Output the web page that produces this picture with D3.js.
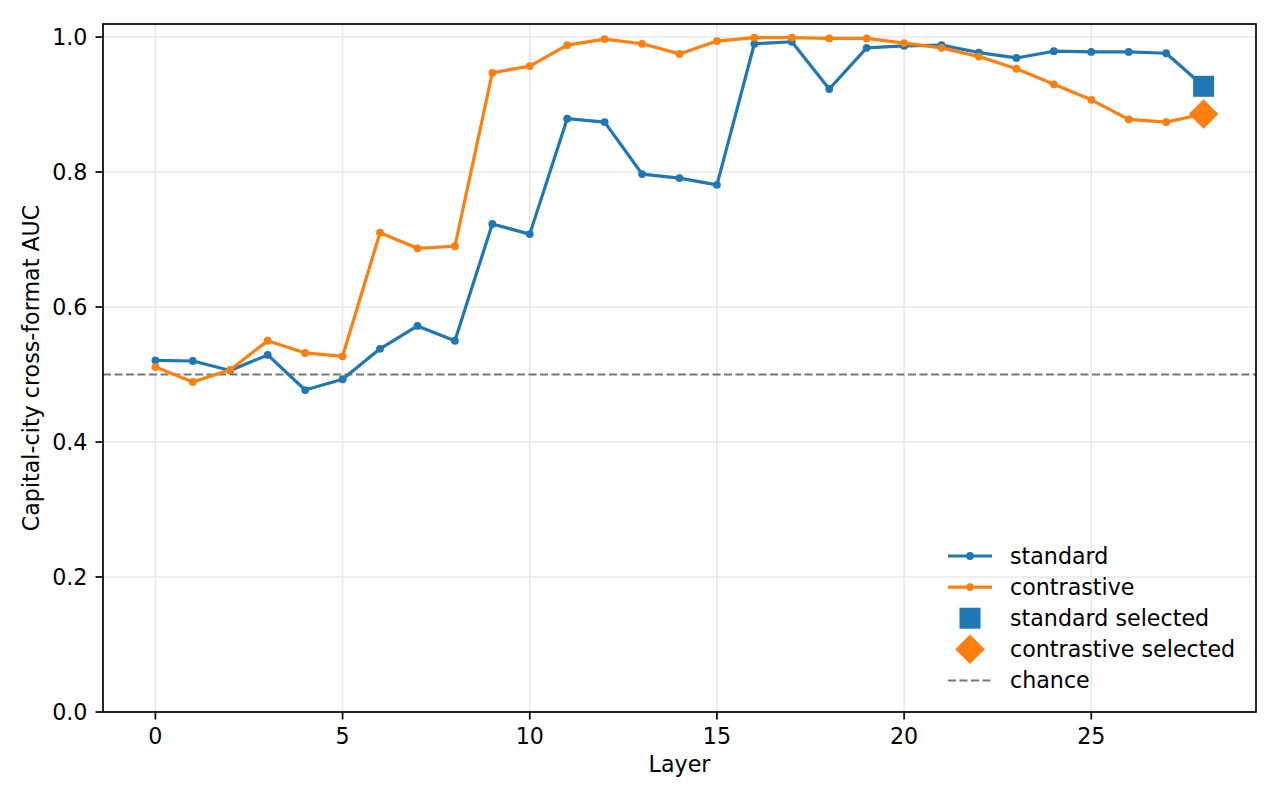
<!DOCTYPE html>
<html><head><meta charset="utf-8">
<script src="https://cdn.jsdelivr.net/npm/d3@7"></script>
<style>body{margin:0;background:#fff;} text{font-family:"DejaVu Sans",sans-serif;fill:#000;}</style>
</head><body><svg id="chart" width="1280" height="800"></svg>
<script>
const layers = d3.range(0, 29);
const standard = [0.521,0.520,0.506,0.529,0.477,0.493,0.538,0.572,0.550,0.723,0.708,0.879,0.874,0.797,0.791,0.781,0.990,0.993,0.923,0.984,0.987,0.988,0.977,0.969,0.979,0.978,0.978,0.976,0.927];
const contrastive = [0.511,0.489,0.507,0.550,0.532,0.527,0.710,0.687,0.690,0.947,0.957,0.988,0.997,0.990,0.975,0.994,0.999,0.999,0.998,0.998,0.991,0.984,0.971,0.953,0.930,0.907,0.878,0.874,0.886];
const selectedLayer = 28;
const standardSelected = 0.927;
const contrastiveSelected = 0.886;
const chance = 0.5;
const xTicks = [0,5,10,15,20,25];
const yTicks = [0.0,0.2,0.4,0.6,0.8,1.0];
const legendLabels = ["standard","contrastive","standard selected","contrastive selected","chance"];

const blue = "#1f77b4", orange = "#ff7f0e", gray = "#777777";
const svg = d3.select("#chart");
const L = 103, R = 1256, T = 24, B = 712;
const x = d3.scaleLinear().domain([-1.4, 29.4]).range([L, R]);
const y = d3.scaleLinear().domain([0, 1.0193]).range([B, T]);
const fs = 22.2;

// grid
const g = svg.append("g");
g.selectAll(".gx").data(xTicks).join("line").attr("x1", d=>x(d)).attr("x2", d=>x(d)).attr("y1", T).attr("y2", B)
  .attr("stroke", "#e8e8e8").attr("stroke-width", 1.6);
g.selectAll(".gy").data(yTicks).join("line").attr("y1", d=>y(d)).attr("y2", d=>y(d)).attr("x1", L).attr("x2", R)
  .attr("stroke", "#e8e8e8").attr("stroke-width", 1.6);

// chance
svg.append("line").attr("x1", L).attr("x2", R).attr("y1", y(chance)).attr("y2", y(chance))
  .attr("stroke", gray).attr("stroke-width", 2).attr("stroke-dasharray", "8,3.5");

const line = d3.line().x((d,i)=>x(layers[i])).y(d=>y(d));
svg.append("path").datum(standard).attr("d", line).attr("fill","none").attr("stroke", blue).attr("stroke-width", 3.2).attr("stroke-linejoin","round");
svg.selectAll(".ps").data(standard.slice(0,28)).join("circle").attr("cx",(d,i)=>x(layers[i])).attr("cy",d=>y(d)).attr("r",3.9).attr("fill",blue);
svg.append("path").datum(contrastive).attr("d", line).attr("fill","none").attr("stroke", orange).attr("stroke-width", 3.2).attr("stroke-linejoin","round");
svg.selectAll(".pc").data(contrastive.slice(0,28)).join("circle").attr("cx",(d,i)=>x(layers[i])).attr("cy",d=>y(d)).attr("r",3.9).attr("fill",orange);

// selected markers
const sq = 21;
svg.append("rect").attr("x", x(selectedLayer)-sq/2).attr("y", y(standardSelected)-sq/2).attr("width", sq).attr("height", sq).attr("fill", blue);
const dm = 14.8;
svg.append("path").attr("d", `M0,${-dm}L${dm},0L0,${dm}L${-dm},0Z`).attr("transform", `translate(${x(selectedLayer)},${y(contrastiveSelected)})`).attr("fill", orange);

// axes frame
svg.append("rect").attr("x", L).attr("y", T).attr("width", R-L).attr("height", B-T).attr("fill","none").attr("stroke","#000").attr("stroke-width",1.7);

// ticks
xTicks.forEach(t=>{
  svg.append("line").attr("x1",x(t)).attr("x2",x(t)).attr("y1",B).attr("y2",B+7.5).attr("stroke","#000").attr("stroke-width",1.7);
  svg.append("text").attr("x",x(t)).attr("y",744).attr("text-anchor","middle").attr("font-size",fs).text(t);
});
yTicks.forEach(t=>{
  svg.append("line").attr("x1",L-7.5).attr("x2",L).attr("y1",y(t)).attr("y2",y(t)).attr("stroke","#000").attr("stroke-width",1.7);
  svg.append("text").attr("x",87.5).attr("y",y(t)+8).attr("text-anchor","end").attr("font-size",fs).text(t.toFixed(1));
});
svg.append("text").attr("x",(L+R)/2).attr("y",772).attr("text-anchor","middle").attr("font-size",fs).text("Layer");
svg.append("text").attr("transform",`translate(39,${(T+B)/2}) rotate(-90)`).attr("text-anchor","middle").attr("font-size",fs).text("Capital-city cross-format AUC");

// legend
const lx = 948, ly0 = 556, dy = 31.1;
const lg = svg.append("g");
legendLabels.forEach((lab,i)=>{
  const yy = ly0 + i*dy;
  const cx = lx + 22;
  if (i<2) {
    const c = i===0?blue:orange;
    lg.append("line").attr("x1",lx).attr("x2",lx+44).attr("y1",yy).attr("y2",yy).attr("stroke",c).attr("stroke-width",3.2);
    lg.append("circle").attr("cx",cx).attr("cy",yy).attr("r",3.9).attr("fill",c);
  } else if (i===2) {
    lg.append("rect").attr("x",cx-sq/2).attr("y",yy-sq/2).attr("width",sq).attr("height",sq).attr("fill",blue);
  } else if (i===3) {
    lg.append("path").attr("d",`M0,${-dm}L${dm},0L0,${dm}L${-dm},0Z`).attr("transform",`translate(${cx},${yy})`).attr("fill",orange);
  } else {
    lg.append("line").attr("x1",lx).attr("x2",lx+44).attr("y1",yy).attr("y2",yy).attr("stroke",gray).attr("stroke-width",2).attr("stroke-dasharray","8,3.5");
  }
  lg.append("text").attr("x",1010).attr("y",yy+7.5).attr("font-size",fs).text(lab);
});
</script></body></html>
